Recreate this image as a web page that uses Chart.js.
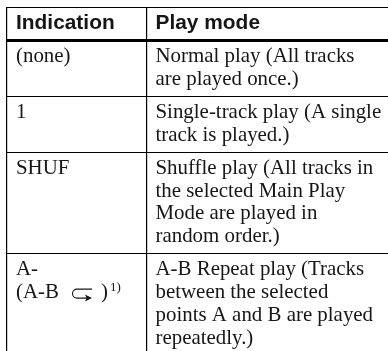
<!DOCTYPE html>
<html>
<head>
<meta charset="utf-8">
<script src="https://cdn.jsdelivr.net/npm/chart.js@4/dist/chart.umd.min.js"></script>
<style>
  html, body { margin: 0; padding: 0; background: #fff; }
  canvas { display: block; }
</style>
</head>
<body>
<canvas id="tabla" width="388" height="351"></canvas>
<script>
// table content
const headers = ['Indication', 'Play mode'];
const indications = [['(none)'], ['1'], ['SHUF'], ['A-', '(A-B']];
const playModes = [
  ['Normal play (All tracks', 'are played once.)'],
  ['Single-track play (A single', 'track is played.)'],
  ['Shuffle play (All tracks in', 'the selected Main Play', 'Mode are played in', 'random order.)'],
  ['A-B Repeat play (Tracks', 'between the selected', 'points A and B are played', 'repeatedly.)']
];
const footnote = '1)';

// layout in px, the axes run 1 unit = 1 px from the table's top left corner
const ORIGIN = 7, LINE = 22.7, ROW_PAD = 10.6, HEAD = 33.5, COL = 139.5, PAD_X = 9;
const rowEdges = [0, HEAD];
playModes.forEach(m => rowEdges.push(rowEdges[rowEdges.length - 1] + m.length * LINE + ROW_PAD));
const colEdges = [0, COL];

// one invisible point per text line, the plugin writes the text on it
function linePoints(lines, col, row) {
  const y = rowEdges[row + 1] + 21.5;
  return lines.map((t, i) => ({ x: colEdges[col] + PAD_X, y: y + i * LINE, text: t }));
}
const bodyPoints = [];
playModes.forEach((m, i) => {
  bodyPoints.push(...linePoints(indications[i], 0, i), ...linePoints(m, 1, i));
});
const headPoints = headers.map((t, i) => ({ x: colEdges[i] + PAD_X, y: 21.5, text: t }));

const textoTabla = {
  id: 'textoTabla',
  afterDatasetsDraw(chart) {
    const ctx = chart.ctx;
    ctx.save();
    ctx.fillStyle = '#161616';
    ctx.textBaseline = 'alphabetic';
    chart.data.datasets.forEach((ds, d) => {
      ctx.font = ds.textFont;
      chart.getDatasetMeta(d).data.forEach((el, i) => {
        ctx.fillText(ds.data[i].text, el.x, el.y);
      });
    });

    // repeat symbol and footnote after "(A-B"
    const last = bodyPoints.find(p => p.text === '(A-B');
    const x = chart.scales.x.getPixelForValue(last.x);
    const y = chart.scales.y.getPixelForValue(last.y);
    ctx.font = '20.9px "Liberation Serif"';
    ctx.fillText(')', x + 85, y);
    ctx.font = '13px "Liberation Serif"';
    ctx.fillText(footnote, x + 94, y - 7);
    ctx.strokeStyle = '#161616';
    ctx.lineWidth = 1.1;
    ctx.beginPath();
    ctx.moveTo(x + 76, y - 9);
    ctx.lineTo(x + 61, y - 9);
    ctx.arc(x + 61, y - 4.5, 4.5, -Math.PI / 2, Math.PI / 2, true);
    ctx.lineTo(x + 72, y);
    ctx.stroke();
    ctx.beginPath();
    ctx.moveTo(x + 76, y);
    ctx.lineTo(x + 69, y - 3.5);
    ctx.lineTo(x + 70.5, y);
    ctx.lineTo(x + 69, y + 3.5);
    ctx.closePath();
    ctx.fillStyle = '#161616';
    ctx.fill();
    ctx.restore();
  }
};

new Chart(document.getElementById('tabla'), {
  type: 'scatter',
  data: {
    datasets: [
      { data: headPoints, pointRadius: 0, textFont: 'bold 20.9px "Liberation Sans"' },
      { data: bodyPoints, pointRadius: 0, textFont: '20.9px "Liberation Serif"' }
    ]
  },
  options: {
    responsive: false,
    animation: false,
    layout: { padding: { left: ORIGIN, top: ORIGIN, right: 0, bottom: 0 } },
    plugins: { legend: { display: false }, tooltip: { enabled: false } },
    scales: {
      x: {
        type: 'linear', min: 0, max: 381,
        afterBuildTicks: s => { s.ticks = colEdges.map(v => ({ value: v })); },
        ticks: { display: false, autoSkip: false },
        border: { display: false },
        grid: { color: '#000', lineWidth: 1.2, drawTicks: false }
      },
      y: {
        type: 'linear', min: 0, max: 344, reverse: true,
        afterBuildTicks: s => { s.ticks = rowEdges.map(v => ({ value: v })); },
        ticks: { display: false, autoSkip: false },
        border: { display: false },
        grid: { color: '#000', lineWidth: c => (c.index === 1 ? 3 : 1), drawTicks: false }
      }
    }
  },
  plugins: [textoTabla]
});
</script>
</body>
</html>
